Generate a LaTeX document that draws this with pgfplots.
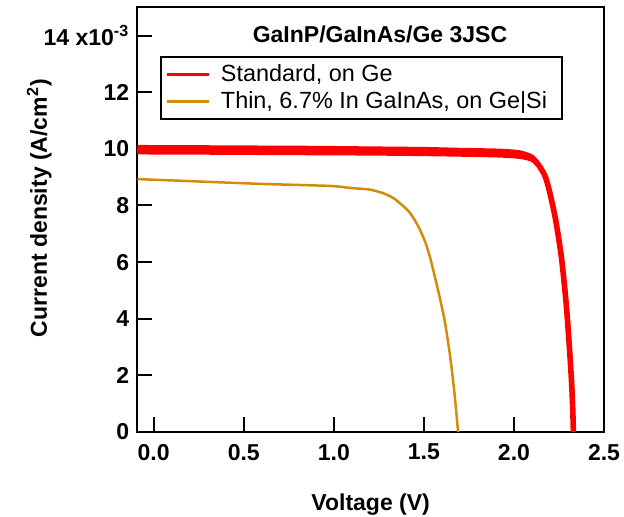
\documentclass[border=0pt]{standalone}
\usepackage{fontspec}
\setmainfont{Liberation Sans}
\usepackage{pgfplots}
\pgfplotsset{compat=1.18}
\definecolor{gold}{RGB}{210,140,10}
\begin{document}
\begin{tikzpicture}
\begin{axis}[
  scale only axis,
  width=233.35pt, height=212.35pt,
  xmin=-0.091, xmax=2.5,
  ymin=0, ymax=15,
  axis line style={line width=1pt},
  every tick/.style={black, line width=1pt},
  major tick length=7.5pt,
  tick align=inside,
  xtick pos=bottom, ytick pos=left,
  xtick={0,0.5,1,1.5,2,2.5},
  xticklabels={0.0,0.5,1.0,1.5,2.0,2.5},
  ytick={0,2,4,6,8,10,12,14},
  yticklabels={0,2,4,6,8,10,12,{14 x10\textsuperscript{-3}}},
  /pgf/number format/assume math mode=true,
  tick label style={font=\fontsize{11.5}{13}\selectfont\bfseries},
  xticklabel style={yshift=-2.5pt},
  yticklabel style={xshift=-0.5pt},
  xlabel={Voltage (V)},
  ylabel={Current density (A/cm\textsuperscript{2})},
  label style={font=\fontsize{11.5}{13}\selectfont\bfseries},
  xlabel style={at={(axis description cs:0.5,-0.172)}, anchor=center},
  ylabel style={at={(axis description cs:-0.21,0.527)}, anchor=center},
  legend style={at={(axis description cs:0.0486,0.885)}, anchor=north west,
    draw=black, line width=1pt, font=\fontsize{11.7}{13}\selectfont,
    inner xsep=2.5pt, inner ysep=1.8pt, row sep=-0.5pt,
    nodes={inner xsep=5pt}},
  legend cell align=left,
  legend image code/.code={\draw[#1, line width=1.5pt] (0pt,0pt) -- (21pt,0pt);},
  clip=true,
]
% extra sweeps of the standard cell (band thickness)
\addplot[red, line width=2.2pt, forget plot, smooth, tension=0.4] coordinates {
(-0.09,10.06) (0.3,10.05) (0.6,10.04) (0.9,10.03) (1.2,10.01) (1.5,9.99) (1.7,9.96) (1.92,9.93) (2.035,9.87) (2.1,9.72) (2.137,9.45)
};
\addplot[red, line width=2.2pt, forget plot, smooth, tension=0.4] coordinates {
(-0.09,9.88) (0.3,9.87) (0.6,9.86) (0.9,9.85) (1.2,9.84) (1.5,9.82) (1.7,9.80) (1.92,9.77) (2.035,9.72) (2.1,9.62) (2.137,9.41)
};
\addplot[red, line width=2.8pt, smooth, tension=0.4] coordinates {
(-0.09,9.97) (0.3,9.96) (0.6,9.95) (0.9,9.94) (1.2,9.93) (1.5,9.91) (1.7,9.88) (1.924,9.85) (2.035,9.79) (2.1,9.67) (2.137,9.43) (2.174,9.02) (2.2,8.43) (2.228,7.61) (2.248,6.85) (2.265,6.1) (2.28,5.2) (2.293,4.3) (2.304,3.35) (2.314,2.4) (2.322,1.5) (2.327,0.7) (2.330,0.0) (2.332,-0.5)
};
\addlegendentry{Standard, on Ge}
\addplot[gold, line width=1.25pt, smooth, tension=0.4] coordinates {
(-0.09,8.93) (0.0,8.91) (0.24,8.85) (0.61,8.76) (0.98,8.69) (1.09,8.62) (1.2,8.56) (1.276,8.43) (1.331,8.26) (1.378,8.02) (1.424,7.73) (1.47,7.25) (1.507,6.72) (1.535,6.15) (1.562,5.45) (1.59,4.70) (1.618,3.84) (1.646,2.66) (1.668,1.48) (1.689,0.07) (1.692,-0.3)
};
\addlegendentry{Thin, 6.7\% In GaInAs, on Ge|Si}
\node[font=\fontsize{11.5}{13}\selectfont\bfseries] at (rel axis cs:0.52,0.937) {GaInP/GaInAs/Ge 3JSC};
\end{axis}
\pgfresetboundingbox
\path ([xshift=-68.65pt,yshift=-42.5pt]current axis.south west) rectangle ([xshift=10pt,yshift=3.65pt]current axis.north east);
\end{tikzpicture}
\end{document}
